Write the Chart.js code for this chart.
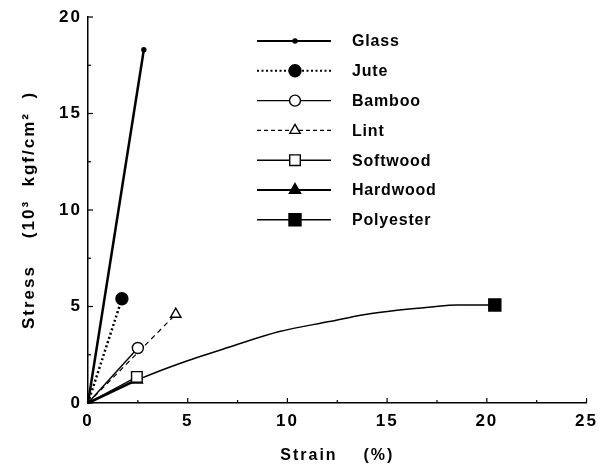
<!DOCTYPE html>
<html>
<head>
<meta charset="utf-8">
<script src="https://cdn.jsdelivr.net/npm/chart.js@4/dist/chart.umd.min.js"></script>
<style>
html,body{margin:0;padding:0;background:#fff;}
#wrap{width:604px;height:468px;position:relative;}
</style>
</head>
<body>
<div id="wrap"><canvas id="c" width="604" height="468"></canvas></div>
<script>
// ---- data (strain %, stress 10^3 kgf/cm^2) ----
const seriesNames = ["Glass","Jute","Bamboo","Lint","Softwood","Hardwood","Polyester"];
const glassX = [0, 2.8];            const glassY = [0, 18.3];
const juteX = [0, 1.7];             const juteY = [0, 5.4];
const bambooX = [0, 2.5];           const bambooY = [0, 2.85];
const lintX = [0, 4.4];             const lintY = [0, 4.6];
const softwoodX = [0, 2.45];        const softwoodY = [0, 1.35];
const hardwoodX = [0, 2.45];        const hardwoodY = [0, 1.2];
const polyesterX = [0, 2.6, 4.6, 7.1, 9.6, 12.1, 13.9, 15.5, 17.2, 18.5, 20.4];
const polyesterY = [0, 1.25, 2.05, 2.9, 3.7, 4.22, 4.59, 4.81, 4.98, 5.08, 5.08];
const xTicks = [0, 5, 10, 15, 20, 25];
const yTicks = [0, 5, 10, 15, 20];

function pts(xs, ys){ return xs.map((x,i)=>({x:x, y:ys[i]})); }
function endOnly(n, r){ return Array.from({length:n},(_,i)=> i===n-1 ? r : 0); }

const styles = [
  {style:'circle',   r:2,   fill:'#000', w:2.5, dash:[]},
  {style:'circle',   r:6,   fill:'#000', w:2.5, dash:[2,2.5]},
  {style:'circle',   r:5.5, fill:'#fff', w:1.4, dash:[]},
  {style:'triangle', r:6,   fill:'#fff', w:1.2, dash:[5,4]},
  {style:'rect',     r:7.5, fill:'#fff', w:1.4, dash:[]},
  {style:'triangle', r:6.5, fill:'#000', w:2.5, dash:[]},
  {style:'rect',     r:8.5, fill:'#000', w:1.5, dash:[]}
];
const allX = [glassX, juteX, bambooX, lintX, softwoodX, hardwoodX, polyesterX];
const allY = [glassY, juteY, bambooY, lintY, softwoodY, hardwoodY, polyesterY];

const datasets = seriesNames.map((name, i) => {
  const s = styles[i];
  const n = allX[i].length;
  return {
    label: name,
    data: pts(allX[i], allY[i]),
    showLine: true,
    borderColor: '#000',
    borderWidth: s.w,
    borderDash: s.dash,
    cubicInterpolationMode: i === 6 ? 'monotone' : 'default',
    tension: i === 6 ? 0.4 : 0,
    pointStyle: s.style,
    pointRadius: endOnly(n, s.r),
    pointBackgroundColor: s.fill,
    pointBorderColor: '#000',
    pointBorderWidth: 1.4,
    pointHoverRadius: endOnly(n, s.r),
    clip: false
  };
});

const tickPlugin = {
  id: 'inwardTicks',
  afterDraw(chart){
    const ctx = chart.ctx;
    const xs = chart.scales.x, ys = chart.scales.y;
    const ca = chart.chartArea;
    ctx.save();
    ctx.strokeStyle = '#000';
    ctx.lineWidth = 1.2;
    ctx.setLineDash([]);
    for (let v = 0; v <= 25; v += 2.5) {
      const px = xs.getPixelForValue(v);
      const len = (v % 5 === 0) ? 5 : 3;
      ctx.beginPath(); ctx.moveTo(px, ca.bottom); ctx.lineTo(px, ca.bottom - len); ctx.stroke();
    }
    for (let v = 0; v <= 20; v += 2.5) {
      const py = ys.getPixelForValue(v);
      const len = (v % 5 === 0) ? 5 : 3;
      ctx.beginPath(); ctx.moveTo(ca.left, py); ctx.lineTo(ca.left + len, py); ctx.stroke();
    }
    ctx.restore();
  }
};

function drawMarker(ctx, style, r, fill, x, y){
  ctx.save();
  ctx.fillStyle = fill; ctx.strokeStyle = '#000'; ctx.lineWidth = 1.4; ctx.setLineDash([]);
  ctx.beginPath();
  if (style === 'circle') {
    ctx.arc(x, y, r, 0, Math.PI*2);
  } else if (style === 'rect') {
    const s = r * Math.SQRT1_2;
    ctx.rect(x - s, y - s, 2*s, 2*s);
  } else if (style === 'triangle') {
    for (let k = 0; k < 3; k++) {
      const a = -Math.PI/2 + k * 2*Math.PI/3;
      const px = x + r*Math.cos(a), py = y + r*Math.sin(a);
      if (k === 0) ctx.moveTo(px, py); else ctx.lineTo(px, py);
    }
    ctx.closePath();
  }
  ctx.fill(); ctx.stroke();
  ctx.restore();
}

const legendPlugin = {
  id: 'customLegend',
  afterDraw(chart){
    const ctx = chart.ctx;
    ctx.save();
    const x0 = 257, x1 = 331, xm = 295, tx = 352, y0 = 41, dy = 29.8;
    seriesNames.forEach((name, i) => {
      const s = styles[i];
      const y = y0 + i*dy;
      ctx.strokeStyle = '#000';
      ctx.lineWidth = Math.min(s.w, 2);
      ctx.setLineDash(i === 3 ? [4,3] : s.dash);
      ctx.beginPath(); ctx.moveTo(x0, y); ctx.lineTo(x1, y); ctx.stroke();
      drawMarker(ctx, s.style, s.r, s.fill, xm, y);
      ctx.setLineDash([]);
      ctx.fillStyle = '#000';
      ctx.font = 'bold 16px "Liberation Sans", Arial, sans-serif';
      ctx.textBaseline = 'middle';
      ctx.textAlign = 'left';
      try { ctx.letterSpacing = '0.8px'; } catch(e) {}
      ctx.fillText(name, tx, y + 1);
    });
    ctx.restore();
  }
};

const spacingPlugin = {
  id: 'spacing',
  beforeDraw(chart){ try { chart.ctx.letterSpacing = '2px'; } catch(e) {} },
  afterDraw(chart){ try { chart.ctx.letterSpacing = '0px'; } catch(e) {} }
};

const tickFont = {family: '"Liberation Sans", Arial, sans-serif', size: 17, weight: 'bold'};
const xTitleFont = {family: '"Liberation Sans", Arial, sans-serif', size: 16, weight: 'bold'};
const yTitleFont = {family: '"Liberation Sans", Arial, sans-serif', size: 17, weight: 'bold'};

new Chart(document.getElementById('c'), {
  type: 'scatter',
  data: { datasets: datasets },
  options: {
    responsive: false,
    animation: false,
    events: [],
    layout: { padding: { top: 17, right: 13, left: 0, bottom: 0 } },
    plugins: { legend: { display: false }, tooltip: { enabled: false } },
    scales: {
      x: {
        type: 'linear', min: 0, max: 25,
        afterBuildTicks(scale){ scale.ticks = xTicks.map(v => ({value: v})); },
        afterFit(scale){ scale.height = 65; },
        grid: { display: false, drawTicks: false },
        border: { display: true, color: '#000', width: 1.5 },
        ticks: { color: '#000', font: tickFont, padding: 8, maxRotation: 0, callback: v => String(v) },
        title: { display: true, text: 'Strain    (%)', color: '#000', font: xTitleFont, padding: { top: 0, bottom: 3 } }
      },
      y: {
        type: 'linear', min: 0, max: 20,
        afterBuildTicks(scale){ scale.ticks = yTicks.map(v => ({value: v})); },
        afterFit(scale){ scale.width = 88; },
        grid: { display: false, drawTicks: false },
        border: { display: true, color: '#000', width: 1.5 },
        ticks: { color: '#000', font: tickFont, padding: 6, callback: v => String(v) },
        title: { display: true, text: 'Stress    (10³  kgf/cm²  )', color: '#000', font: yTitleFont, padding: { top: 19, bottom: 0 } }
      }
    }
  },
  plugins: [spacingPlugin, tickPlugin, legendPlugin]
});
</script>
</body>
</html>
